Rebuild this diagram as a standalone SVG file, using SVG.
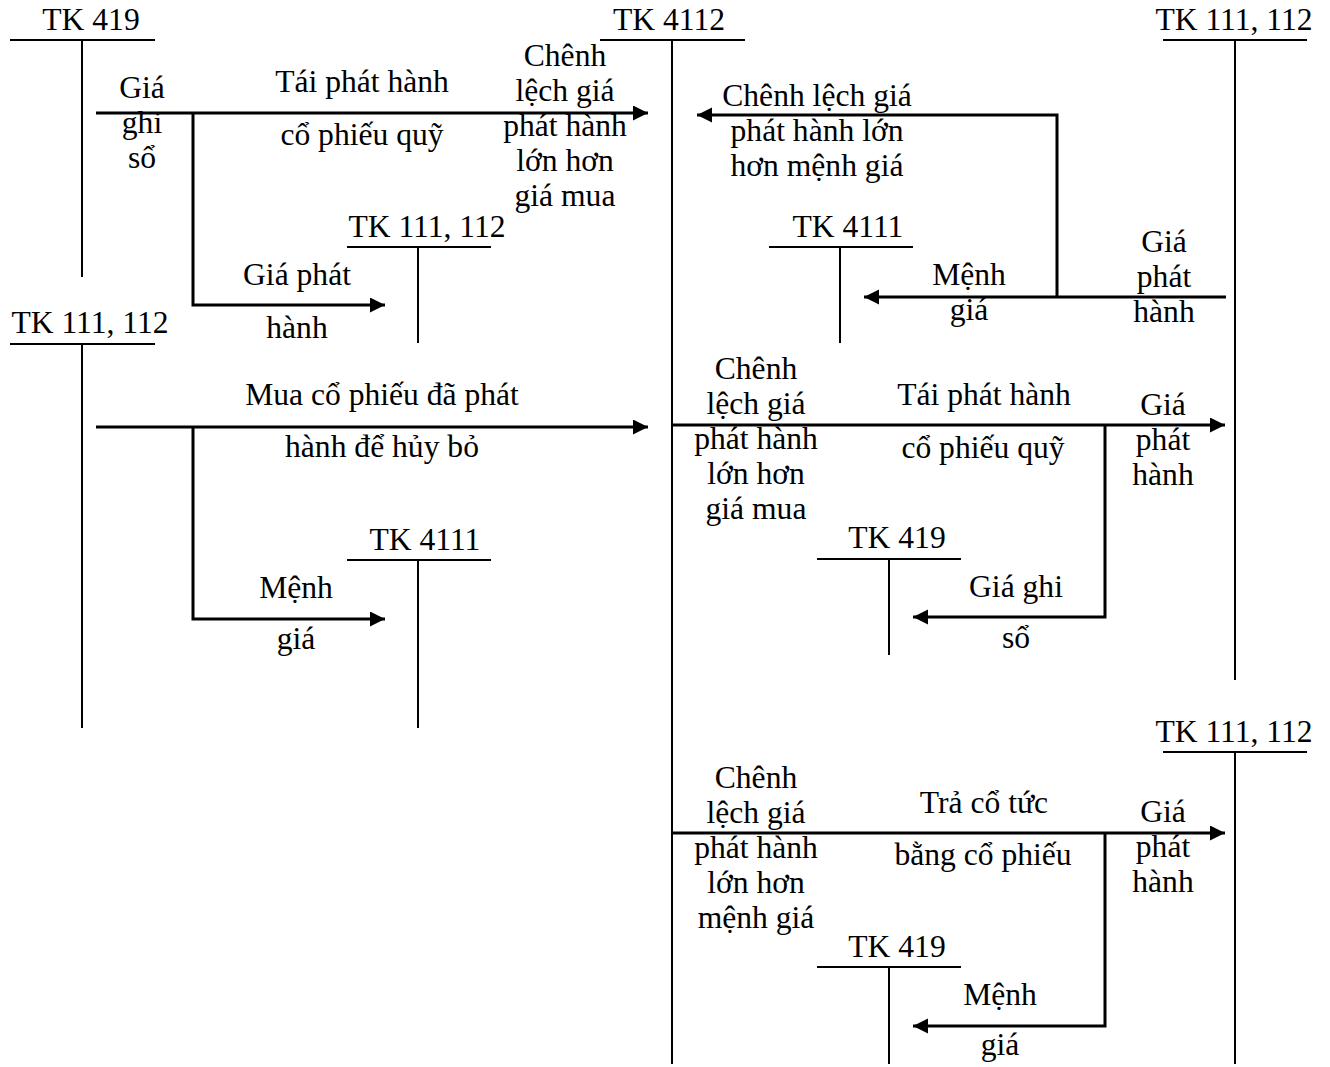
<svg xmlns="http://www.w3.org/2000/svg" width="1330" height="1067" viewBox="0 0 1330 1067">
<style>
text{font-family:"Liberation Serif","Times New Roman",serif;font-size:31.6px;fill:#000;text-anchor:middle}
.t{stroke:#000;stroke-width:2;fill:none}
.c{stroke:#000;stroke-width:3;fill:none;marker-end:url(#ah)}
</style>
<defs>
<marker id="ah" markerUnits="userSpaceOnUse" markerWidth="16" markerHeight="16" refX="15" refY="7.5" orient="auto">
<path d="M0,0 L15,7.5 L0,15 z" fill="#000"/>
</marker>
</defs>
<rect width="1330" height="1067" fill="#fff"/>
<g id="tk419-top-left"><text x="91" y="30">TK 419</text><path class="t" d="M10,40 H155 M82,40 V277"/></g>
<g id="tk111-left"><text x="90" y="333">TK 111, 112</text><path class="t" d="M10,344 H155 M82,344 V728"/></g>
<g id="tk111-mid"><text x="427" y="237">TK 111, 112</text><path class="t" d="M347,247 H491 M418,247 V343"/></g>
<g id="tk4111-left"><text x="425" y="550">TK 4111</text><path class="t" d="M347,560 H491 M418,560 V728"/></g>
<g id="tk4112"><text x="669" y="30">TK 4112</text><path class="t" d="M600,40 H745 M672,40 V1064"/></g>
<g id="tk111-right-top"><text x="1234" y="30">TK 111, 112</text><path class="t" d="M1163,40 H1307 M1235,40 V680"/></g>
<g id="tk4111-right"><text x="848" y="237">TK 4111</text><path class="t" d="M769,247 H913 M840,247 V343"/></g>
<g id="tk419-mid"><text x="897" y="548">TK 419</text><path class="t" d="M817,559 H961 M889,559 V655"/></g>
<g id="tk111-right-bottom"><text x="1234" y="742">TK 111, 112</text><path class="t" d="M1163,752 H1307 M1235,752 V1064"/></g>
<g id="tk419-bottom"><text x="897" y="957">TK 419</text><path class="t" d="M817,967 H961 M889,967 V1064"/></g>
<g id="connectors">
<path class="c" d="M96,113 H648"/>
<path class="c" d="M193,113 V305 H385"/>
<path class="c" d="M96,427 H648"/>
<path class="c" d="M193,427 V619 H385"/>
<path class="c" d="M1057,297 V115 H697"/>
<path class="c" d="M1226,297 H864"/>
<path class="c" d="M672,425 H1225"/>
<path class="c" d="M1105,425 V617 H913"/>
<path class="c" d="M672,833 H1225"/>
<path class="c" d="M1105,833 V1026 H913"/>
</g>
<g id="labels">
<text x="142" y="98">Giá<tspan x="142" y="133">ghi</tspan><tspan x="142" y="168">sổ</tspan></text>
<text x="362" y="92">Tái phát hành</text>
<text x="362" y="145">cổ phiếu quỹ</text>
<text x="565" y="66">Chênh<tspan x="565" y="101">lệch giá</tspan><tspan x="565" y="136">phát hành</tspan><tspan x="565" y="171">lớn hơn</tspan><tspan x="565" y="206">giá mua</tspan></text>
<text x="297" y="285">Giá phát</text>
<text x="297" y="338">hành</text>
<text x="382" y="405">Mua cổ phiếu đã phát</text>
<text x="382" y="457">hành để hủy bỏ</text>
<text x="296" y="598">Mệnh</text>
<text x="296" y="649">giá</text>
<text x="817" y="106">Chênh lệch giá<tspan x="817" y="141">phát hành lớn</tspan><tspan x="817" y="176">hơn mệnh giá</tspan></text>
<text x="969" y="285">Mệnh</text>
<text x="969" y="320">giá</text>
<text x="1164" y="252">Giá<tspan x="1164" y="287">phát</tspan><tspan x="1164" y="322">hành</tspan></text>
<text x="756" y="379">Chênh<tspan x="756" y="414">lệch giá</tspan><tspan x="756" y="449">phát hành</tspan><tspan x="756" y="484">lớn hơn</tspan><tspan x="756" y="519">giá mua</tspan></text>
<text x="984" y="405">Tái phát hành</text>
<text x="983" y="458">cổ phiếu quỹ</text>
<text x="1163" y="415">Giá<tspan x="1163" y="450">phát</tspan><tspan x="1163" y="485">hành</tspan></text>
<text x="1016" y="597">Giá ghi</text>
<text x="1016" y="648">sổ</text>
<text x="756" y="788">Chênh<tspan x="756" y="823">lệch giá</tspan><tspan x="756" y="858">phát hành</tspan><tspan x="756" y="893">lớn hơn</tspan><tspan x="756" y="928">mệnh giá</tspan></text>
<text x="984" y="813">Trả cổ tức</text>
<text x="983" y="865">bằng cổ phiếu</text>
<text x="1163" y="822">Giá<tspan x="1163" y="857">phát</tspan><tspan x="1163" y="892">hành</tspan></text>
<text x="1000" y="1005">Mệnh</text>
<text x="1000" y="1055">giá</text>
</g>
</svg>
